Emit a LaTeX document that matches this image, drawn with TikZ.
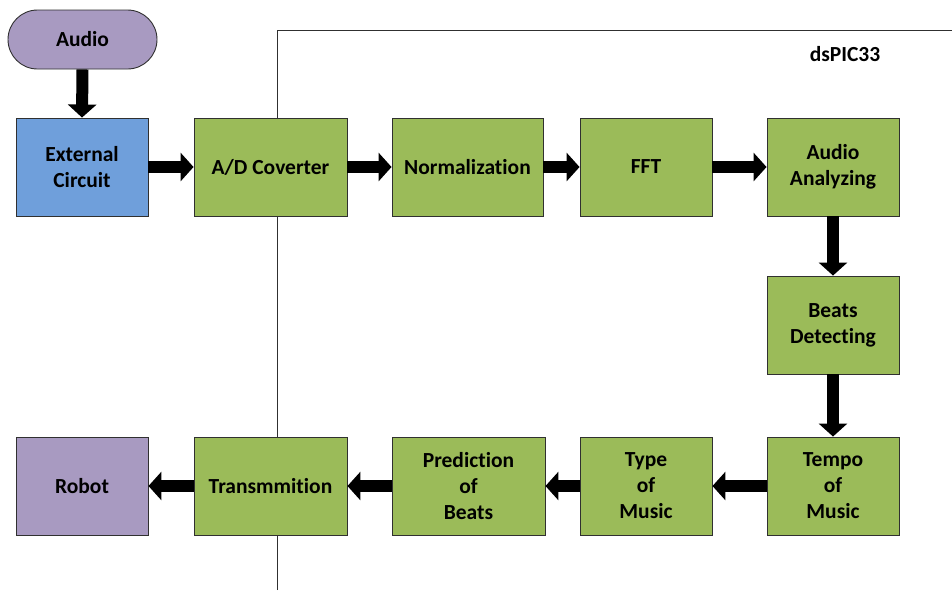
\documentclass[tikz,border=0pt]{standalone}
\usepackage{fontspec}
\setmainfont{Carlito}[Ligatures=NoCommon]
\usetikzlibrary{arrows.meta}
\definecolor{boxgreen}{HTML}{9BBB59}
\definecolor{boxblue}{HTML}{6F9FDB}
\definecolor{boxpurple}{HTML}{A89AC1}
\definecolor{edgegray}{HTML}{303030}
\tikzset{
  blk/.style={draw=edgegray, line width=0.9pt, fill=boxgreen, minimum height=98pt, align=center,
    font=\fontsize{21.5pt}{26pt}\selectfont\bfseries, inner sep=0pt},
  wblk/.style={blk, minimum width=153pt},
  nblk/.style={blk, minimum width=132pt},
  blockarrow/.style={line width=12pt, -{Triangle[length=13pt,width=28pt]}},
  frame/.style={draw=edgegray, line width=0.9pt}
}
\begin{document}
\begin{tikzpicture}[x=1pt,y=-1pt]
\useasboundingbox (0,0) rectangle (952,590);
% frame of dsPIC33
\coordinate (fb) at (277,590);
\coordinate (ft) at (277,30);
\coordinate (fr) at (952,30);
\draw[frame] (fb) -- (ft) -- (fr);
\node[font=\fontsize{21.5pt}{26pt}\selectfont\bfseries] (dspic) at (845,54) {dsPIC33};
% nodes
\node[blk, fill=boxpurple, minimum width=149pt, minimum height=59pt, rounded corners=29.5pt] (audio) at (82.5,39.5) {Audio};
\node[nblk, fill=boxblue] (ext) at (82,167) {External\\Circuit};
\node[wblk] (ad) at (270.5,167) {A/D Coverter};
\node[blk, minimum width=151pt] (norm) at (467.5,167) {Normalization};
\node[nblk] (fft) at (646,167) {FFT};
\node[nblk] (aa) at (833,167) {Audio\\Analyzing};
\node[nblk] (bd) at (833,325) {Beats\\Detecting};
\node[nblk] (tempo) at (833,486) {Tempo\\of\\Music};
\node[nblk] (type) at (646,486) {Type\\of\\Music};
\node[wblk] (pred) at (468.5,486) {Prediction\\of\\Beats};
\node[wblk] (trans) at (270.5,486) {Transmmition};
\node[nblk, fill=boxpurple] (robot) at (82,486) {Robot};
% arrows
\draw[blockarrow] (audio.south) -- (ext.north);
\draw[blockarrow] (ext.east) -- (ad.west);
\draw[blockarrow] (ad.east) -- (norm.west);
\draw[blockarrow] (norm.east) -- (fft.west);
\draw[blockarrow] (fft.east) -- (aa.west);
\draw[blockarrow] (aa.south) -- (bd.north);
\draw[blockarrow] (bd.south) -- (tempo.north);
\draw[blockarrow] (tempo.west) -- (type.east);
\draw[blockarrow] (type.west) -- (pred.east);
\draw[blockarrow] (pred.west) -- (trans.east);
\draw[blockarrow] (trans.west) -- (robot.east);
\end{tikzpicture}
\end{document}
